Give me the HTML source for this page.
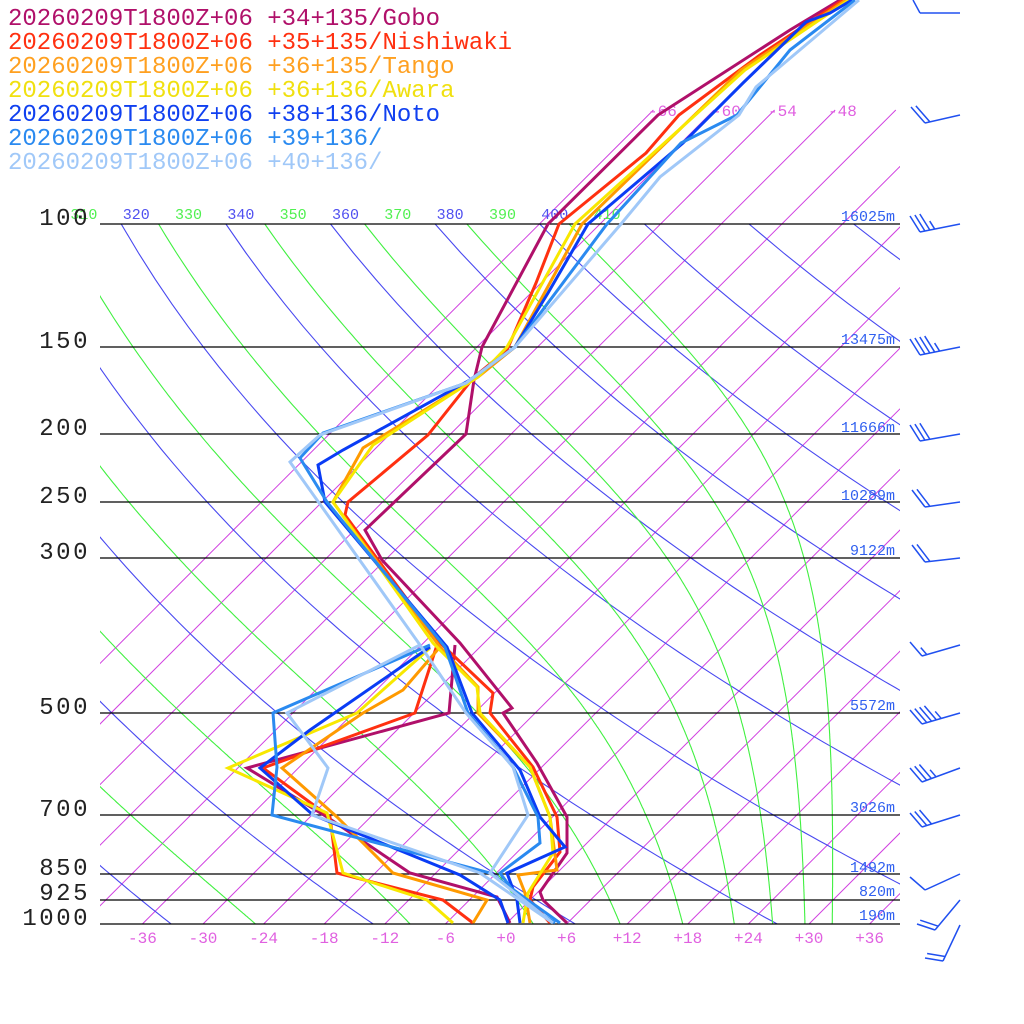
<!DOCTYPE html>
<html><head><meta charset="utf-8"><style>
html,body{margin:0;padding:0;background:#fff;}
svg{display:block;}
text{font-family:"Liberation Mono","DejaVu Sans Mono",monospace;}
</style></head><body>
<svg id="s" width="1024" height="1024" viewBox="0 0 1024 1024" xmlns="http://www.w3.org/2000/svg">
<defs>
<clipPath id="cp"><rect x="100" y="224" width="800" height="700"/></clipPath>
<clipPath id="cpi"><rect x="100" y="105" width="800" height="819"/></clipPath>
</defs>
<g id="grid"></g>
<g id="plines" stroke="#000" stroke-width="1.3">
<line x1="100" y1="224" x2="900" y2="224"/><line x1="100" y1="347" x2="900" y2="347"/>
<line x1="100" y1="434" x2="900" y2="434"/><line x1="100" y1="502" x2="900" y2="502"/>
<line x1="100" y1="558" x2="900" y2="558"/><line x1="100" y1="713" x2="900" y2="713"/>
<line x1="100" y1="815" x2="900" y2="815"/><line x1="100" y1="874" x2="900" y2="874"/>
<line x1="100" y1="900" x2="900" y2="900"/><line x1="100" y1="924" x2="900" y2="924"/>
</g>
<g font-size="24" fill="#222" text-anchor="end" letter-spacing="2.5">
<text x="90" y="225">100</text><text x="90" y="348">150</text><text x="90" y="435">200</text>
<text x="90" y="503">250</text><text x="90" y="559">300</text><text x="90" y="714">500</text>
<text x="90" y="816">700</text><text x="90" y="875">850</text><text x="90" y="900">925</text>
<text x="90" y="925">1000</text>
</g>
<g font-size="15" fill="#3060f0" text-anchor="end">
<text x="895" y="221">16025m</text><text x="895" y="344">13475m</text><text x="895" y="432">11666m</text>
<text x="895" y="500">10289m</text><text x="895" y="555">9122m</text><text x="895" y="710">5572m</text>
<text x="895" y="812">3026m</text><text x="895" y="872">1492m</text><text x="895" y="896">820m</text>
<text x="895" y="920">190m</text>
</g>
<g font-size="16" fill="#e060e0" text-anchor="middle" id="xt"></g>
<g font-size="16" fill="#e060e0">
<text x="648" y="116">-66</text><text x="712" y="116">-60</text><text x="768" y="116">-54</text><text x="828" y="116">-48</text>
</g>
<g id="series" fill="none" stroke-width="3" stroke-linejoin="miter"></g>
<g id="barbs" stroke="#2050f0" stroke-width="1.5" fill="none"></g>
<g font-size="24">
<text x="8" y="25" fill="#b0106a">20260209T1800Z+06 +34+135/Gobo</text>
<text x="8" y="49" fill="#ff3010">20260209T1800Z+06 +35+135/Nishiwaki</text>
<text x="8" y="73" fill="#ffa020">20260209T1800Z+06 +36+135/Tango</text>
<text x="8" y="97" fill="#f0e010">20260209T1800Z+06 +36+136/Awara</text>
<text x="8" y="121" fill="#1040f0">20260209T1800Z+06 +38+136/Noto</text>
<text x="8" y="145" fill="#2a8af0">20260209T1800Z+06 +39+136/</text>
<text x="8" y="169" fill="#a0c8f8">20260209T1800Z+06 +40+136/</text>
</g>
</svg>
<script>
var NS="http://www.w3.org/2000/svg";
function el(t,a,p){var e=document.createElementNS(NS,t);for(var k in a)e.setAttribute(k,a[k]);if(p)p.appendChild(e);return e;}
function Y(p){return 924-304*Math.log(1000/p);}
function X(T,y){return 506+10.1*T+(924-y);}
var grid=document.getElementById('grid');
var gi=el('g',{'clip-path':'url(#cpi)',stroke:'#d040e0','stroke-width':'1'},grid);
for(var T=-66;T<=48;T+=6){var y1=110,y2=924;el('line',{x1:X(T,y1),y1:y1,x2:X(T,y2),y2:y2},gi);}
var ga=el('g',{'clip-path':'url(#cp)',fill:'none','stroke-width':'1.1'},grid);
for(var th=240;th<=460;th+=20){var d='';for(var p=100;p<=1000;p+=10){var y=Y(p);var Tk=th*Math.pow(p/1000,0.2857);var x=X(Tk-273.15,y);d+=(p==100?'M':'L')+x.toFixed(1)+','+y.toFixed(1);}el('path',{d:d,stroke:'#4848f0'},ga);}
function es(Tc){return 6.112*Math.exp(17.67*Tc/(Tc+243.5));}
var Tb=[-24.8,-9.5,2.7,11.3,17.5,22.6,26.4,29.6,32.3];
Tb.forEach(function(t0){var Tk=t0+273.15;var d='';var p=1000;
 while(p>=100){var y=Y(p);var x=X(Tk-273.15,y);d+=(d?'L':'M')+x.toFixed(1)+','+y.toFixed(1);
  var e=es(Tk-273.15);var rs=0.622*e/Math.max(p-e,1);var Rd=287,cp=1005,L=2.5e6;
  var g=(Rd*Tk+L*rs)/(cp+L*L*rs*0.622/(Rd*Tk*Tk))/p;var dp=-2;Tk+=g*dp;p+=dp;}
 el('path',{d:d,stroke:'#40f040'},ga);});
var gl=el('g',{'font-size':'15'},grid);
for(var th=310;th<=410;th+=10){var Tk=th*Math.pow(0.1,0.2857);var x=X(Tk-273.15,224)+15;
 var t=el('text',{x:x,y:219,fill:(th%20==0?'#5050f0':'#50f050'),'text-anchor':'middle'},gl);t.textContent=th;}
var xt=document.getElementById('xt');
for(var T=-36;T<=36;T+=6){var t=el('text',{x:506+10.1*T,y:943},xt);t.textContent=(T>0?'+'+T:(T==0?'+0':T));}
var S=[
['#b0106a',[[840,0],[790,30],[658,115],[548,224],[482,347],[474,380],[466,434],[365,530],[382,560],[460,643],[512,708],[503,713],[537,763],[567,817],[567,853],[540,892],[543,900],[567,923]],
 [[455,645],[449,713],[247,768],[327,817],[410,873],[497,897],[510,923]]],
['#ff3010',[[843,0],[760,55],[679,115],[646,153],[559,224],[536,283],[507,350],[474,377],[428,435],[348,502],[345,515],[437,640],[493,693],[490,713],[533,767],[557,817],[560,852],[533,887],[530,900],[550,923]],
 [[437,645],[415,713],[263,768],[330,817],[337,873],[443,900],[473,923]]],
['#ff9a00',[[846,0],[741,70],[582,224],[515,347],[478,377],[363,448],[333,502],[440,647],[478,687],[478,713],[530,767],[550,817],[557,870],[518,875],[525,893],[530,923]],
 [[440,647],[403,690],[363,713],[282,768],[337,817],[393,873],[487,900],[473,923]]],
['#f8e800',[[849,0],[745,70],[575,224],[507,347],[478,377],[373,445],[333,502],[433,643],[477,687],[480,713],[530,767],[550,817],[553,853],[528,893],[523,923]],
 [[430,648],[357,713],[228,768],[327,813],[343,873],[427,900],[453,923]]],
['#0a3cf5',[[852,0],[830,13],[806,22],[743,83],[683,143],[588,224],[548,293],[515,347],[470,380],[343,450],[318,465],[325,502],[447,647],[472,713],[520,770],[540,817],[565,847],[507,873],[517,900],[520,923]],
 [[430,647],[310,730],[260,768],[313,815],[460,875],[500,900],[508,923]]],
['#2a8af0',[[855,0],[790,50],[737,115],[681,143],[607,224],[515,347],[466,383],[323,433],[300,458],[327,502],[445,647],[468,713],[513,767],[538,817],[540,843],[500,873],[520,900],[555,923]],
 [[430,645],[273,713],[277,767],[272,815],[490,873],[560,923]]],
['#a0c8f8',[[859,0],[756,87],[739,115],[660,177],[621,224],[515,347],[466,383],[320,435],[290,462],[420,645],[466,713],[513,767],[528,815],[490,873],[553,923]],
 [[420,645],[287,713],[328,768],[312,815],[480,873],[553,923]]]
];
var gs=document.getElementById('series');
S.forEach(function(s){[s[1],s[2]].forEach(function(pts){el('polyline',{points:pts.map(function(q){return q.join(',')}).join(' '),stroke:s[0]},gs);});});
var B=[[920,13,960,13,1,0,-7,-13],[925,123,960,115,2,0,-14,-16],[920,232,960,224,3,1,-10,-16],[920,355,960,347,4,1,-10,-16],
[920,441,960,434,3,0,-10,-16],[925,507,960,502,2,0,-13,-17],[925,562,960,558,2,0,-13,-17],[922,656,960,645,1,1,-12,-14],
[922,724,960,713,4,1,-12,-14],[922,782,960,768,3,1,-12,-14],[922,827,960,815,3,0,-12,-14],[925,890,960,874,1,0,-15,-13],
[935,930,960,900,2,0,-18,-6],[943,961,960,925,2,0,-18,-3]];
var gb=document.getElementById('barbs');
B.forEach(function(b){el('line',{x1:b[0],y1:b[1],x2:b[2],y2:b[3]},gb);
 var dx=b[2]-b[0],dy=b[3]-b[1],L=Math.sqrt(dx*dx+dy*dy);dx/=L;dy/=L;var n=b[4]+b[5];
 for(var k=0;k<n;k++){var px=b[0]+dx*k*5,py=b[1]+dy*k*5;var f=(k<b[4])?1:0.5;
  el('line',{x1:px,y1:py,x2:px+b[6]*f,y2:py+b[7]*f},gb);}});
</script>
</body></html>
